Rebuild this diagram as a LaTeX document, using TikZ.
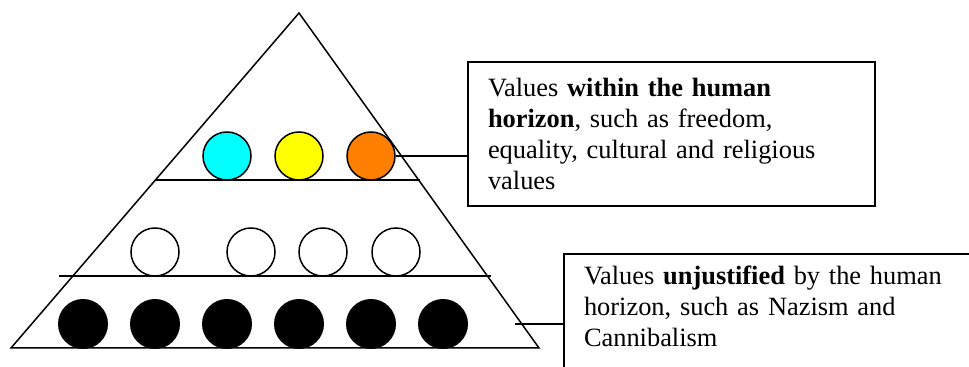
\documentclass[tikz,border=0pt]{standalone}
\usepackage{fontspec}
\setmainfont{Liberation Serif}
\usepackage{xcolor}
\definecolor{skycyan}{RGB}{0,255,255}
\definecolor{sunyellow}{RGB}{255,255,0}
\definecolor{deeporange}{RGB}{255,128,0}

\begin{document}
\begin{tikzpicture}[x=0.5pt, y=-0.5pt, line width=0.75pt,
    valuedot/.style={circle, draw, minimum size=24pt, inner sep=0pt},
    baddot/.style={circle, fill=black, minimum size=25pt, inner sep=0pt},
    infobox/.style={draw, line width=1pt, align=left, inner xsep=10pt, anchor=north west,
        font=\fontsize{13.2}{15.5}\selectfont}]
    \useasboundingbox (0,0) rectangle (969,367);
    \clip (0,0) rectangle (969,367);

    \draw (299,13) -- (539,348) -- (11,348) -- cycle;
    \draw (155,180) -- (420,180);
    \draw (59,276) -- (491,276);

    \node [valuedot, fill=skycyan] (cyandot) at (227,156) {};
    \node [valuedot, fill=sunyellow] (yellowdot) at (299,156) {};
    \node [valuedot, fill=deeporange] (orangedot) at (371,156) {};
    \foreach \x [count=\i] in {155,251,323,396}
        \node [valuedot] (w\i) at (\x,252) {};
    \foreach \x [count=\i] in {83,155,...,443}
        \node [baddot] (b\i) at (\x,324) {};

    \node [infobox, text width=183.5pt, inner ysep=4pt, minimum height=72pt] (humanbox) at (467,61)
        {Values \textbf{within the human}\\ \textbf{horizon}, such as freedom,\\ equality, cultural and religious\\ values};
    \node [infobox, text width=200pt, inner ysep=6pt, text depth=60pt] (unjustbox) at (563,253)
        {Values \textbf{unjustified} by the human\\ horizon, such as Nazism and\\ Cannibalism};

    \draw (orangedot.east) -- (orangedot.east -| humanbox.west);
    \coordinate (tail) at (515,324);
    \draw (tail) -- (tail -| unjustbox.west);
\end{tikzpicture}
\end{document}
